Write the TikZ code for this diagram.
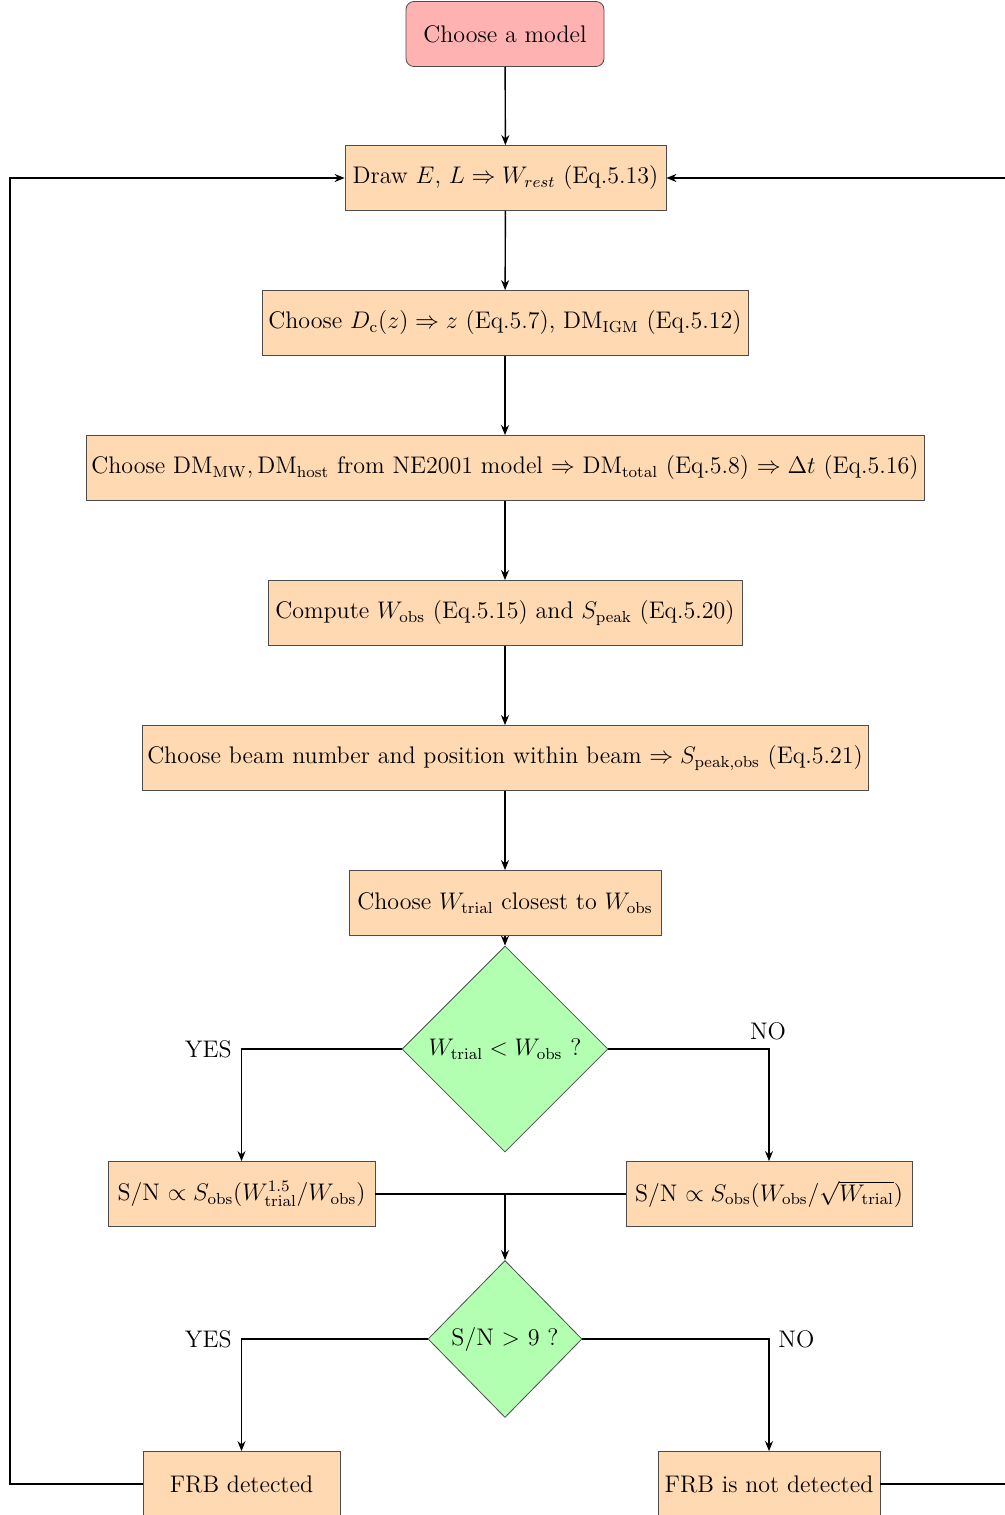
\documentclass[tikz,border=0pt]{standalone}
\usetikzlibrary{shapes.geometric,arrows.meta}
\newcommand\fz{\fontsize{12}{14}\selectfont}
\begin{document}
\begin{tikzpicture}[x=0.5pt,y=-0.5pt,
  box/.style={draw=black!70, fill=orange!30, minimum height=32.5pt, inner sep=0pt, font=\fz},
  startbox/.style={box, fill=red!30, rounded corners=4pt},
  dia/.style={diamond, draw=black!70, fill=green!30, inner sep=0pt, font=\fz},
  conn/.style={line width=0.7pt, -{Stealth[length=5pt,width=4pt]}},
  plain/.style={line width=0.7pt},
  lbl/.style={font=\fz, inner sep=1pt}]
\useasboundingbox (0,0) rectangle (1005,1515);
\clip (0,0) rectangle (1005,1515);

\node[startbox, minimum width=99pt] (model) at (505,34) {Choose a model};
\node[box, minimum width=160.5pt] (draw) at (505.5,178) {Draw $E$, $L \Rightarrow W_{rest}$ (Eq.5.13)};
\node[box, minimum width=243pt] (dc) at (505,323) {Choose $D_{\mathrm{c}}(z) \Rightarrow z$ (Eq.5.7), DM$_{\mathrm{IGM}}$ (Eq.5.12)};
\node[box, minimum width=419pt] (dm) at (505,468) {Choose $\mathrm{DM_{MW}, DM_{host}}$ from NE2001 model $\Rightarrow$ DM$_{\mathrm{total}}$ (Eq.5.8) $\Rightarrow \Delta t$ (Eq.5.16)};
\node[box, minimum width=237pt] (comp) at (505,613) {Compute $W_{\mathrm{obs}}$ (Eq.5.15) and $S_{\mathrm{peak}}$ (Eq.5.20)};
\node[box, minimum width=363pt] (beam) at (505,758) {Choose beam number and position within beam $\Rightarrow S_{\mathrm{peak,obs}}$ (Eq.5.21)};
\node[box, minimum width=156pt] (wt) at (505,903) {Choose $W_{\mathrm{trial}}$ closest to $W_{\mathrm{obs}}$};
\node[dia, minimum width=103pt, minimum height=103pt] (d1) at (505,1049) {$W_{\mathrm{trial}} < W_{\mathrm{obs}}$ ?};
\node[box, minimum width=133.5pt] (snl) at (241.5,1194) {S/N $\propto S_{\mathrm{obs}}(W_{\mathrm{trial}}^{1.5}/W_{\mathrm{obs}})$};
\node[box, minimum width=143pt] (snr) at (769,1194) {S/N $\propto S_{\mathrm{obs}}(W_{\mathrm{obs}}/\sqrt{W_{\mathrm{trial}}})$};
\node[dia, minimum width=77pt, minimum height=78.5pt] (d2) at (505,1339) {S/N $>$ 9 ?};
\node[box, minimum width=98.5pt] (det) at (241.5,1484) {FRB detected};
\node[box, minimum width=111pt] (nodet) at (769,1484) {FRB is not detected};

\coordinate (lc) at (10,1484);
\coordinate (rc) at (1015,1484);
\coordinate (mid) at (505,1194);

\draw[conn] (model) -- (draw);
\draw[conn] (draw) -- (dc);
\draw[conn] (dc) -- (dm);
\draw[conn] (dm) -- (comp);
\draw[conn] (comp) -- (beam);
\draw[conn] (beam) -- (wt);
\draw[conn] (wt) -- (d1);
\draw[conn] (d1.west) -| (snl.north);
\draw[conn] (d1.east) -| (snr.north);
\draw[plain] (snl.east) -- (snr.west);
\draw[conn] (mid) -- (d2.north);
\draw[conn] (d2.west) -| (det.north);
\draw[conn] (d2.east) -| (nodet.north);
\draw[conn] (det.west) -- (lc) |- (draw.west);
\draw[conn] (nodet.east) -- (rc) |- (draw.east);

\node[lbl, anchor=east] (yes1) at (234,1049) {YES};
\node[lbl, anchor=south] (no1) at (768,1042) {NO};
\node[lbl, anchor=east] (yes2) at (234,1339) {YES};
\node[lbl, anchor=west] (no2) at (776,1339) {NO};
\end{tikzpicture}
\end{document}
